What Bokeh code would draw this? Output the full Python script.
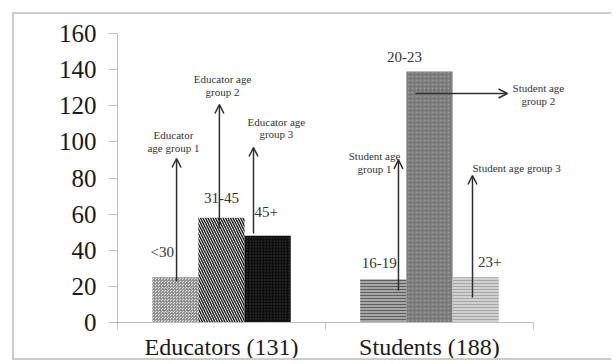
from bokeh.plotting import figure
from bokeh.models import (ColumnDataSource, Range1d, LinearAxis, FixedTicker, Arrow, OpenHead,
                          Label)
from bokeh.embed import file_html
from bokeh.resources import INLINE
from bokeh.core.properties import value

# ---------------- data ----------------
categories = ["Educators (131)", "Students (188)"]
educator_groups = ["<30", "31-45", "45+"]
educator_counts = [25, 58, 48]
student_groups = ["16-19", "20-23", "23+"]
student_counts = [24, 139, 25]
y_ticks = [0, 20, 40, 60, 80, 100, 120, 140, 160]
educator_notes = ["Educator\nage group 1", "Educator age\ngroup 2", "Educator age\ngroup 3"]
student_notes = ["Student age\ngroup 1", "Student age\ngroup 2", "Student age group 3"]

# ---------------- styles ----------------
SERIF = "Liberation Serif"
slot_offsets = [-0.222, 0.0, 0.222]
bar_width = 0.222
# (educator style, student style) per slot
fills = [("#d9d9d9", "#a6a6a6"), ("#ffffff", "#7a7a7a"), ("#0d0d0d", "#d0d0d0")]
hatches = [("criss_cross", "horizontal_line"), ("left_diagonal_line", "dot"), ("dot", "horizontal_line")]
hatch_colors = [("#8c8c8c", "#5e5e5e"), ("#262626", "#9c9c9c"), ("#3a3a3a", "#a8a8a8")]
hatch_scales = [(3, 3), (5, 4), (3, 3)]
hatch_weights = [(0.8, 1.0), (1.5, 1.0), (1.0, 1.0)]
label_dx = [(-13, -4), (0, -25), (-1.5, 14)]
label_dy = [(-25, -16), (-20, -14), (-24, -15)]

n_cat = len(categories)
p = figure(width=599, height=348, x_range=Range1d(0, 2.385), y_range=Range1d(0, 160),
           output_backend="svg", toolbar_location=None, x_axis_location=None,
           min_border_left=103, min_border_right=0, min_border_top=19, min_border_bottom=40)
p.styles = {"margin-left": "12px", "margin-top": "12px",
            "border-left": "2px solid #cccccc", "border-top": "2px solid #cccccc",
            "border-bottom": "2px solid #cccccc"}
p.outline_line_color = None
p.xgrid.visible = False
p.ygrid.visible = False
p.background_fill_color = "white"
p.border_fill_color = "white"

# y axis
ya = p.yaxis[0]
ya.ticker = FixedTicker(ticks=y_ticks)
ya.axis_line_color = "#bfbfbf"
ya.major_tick_line_color = "#bfbfbf"
ya.major_tick_in = 0
ya.major_tick_out = 9
ya.minor_tick_line_color = None
ya.major_label_text_font = SERIF
ya.major_label_text_font_size = "25px"
ya.major_label_text_color = "#1a1a1a"
ya.major_label_standoff = 12

# category axis: labels at category centres, small ticks at category boundaries
centers = [i + 0.5 for i in range(n_cat)]
cat_axis = LinearAxis(ticker=FixedTicker(ticks=centers, minor_ticks=list(range(n_cat + 1))),
                      major_label_overrides={c: name for c, name in zip(centers, categories)},
                      bounds=(0, n_cat),
                      axis_line_color="#bfbfbf", major_tick_line_color=None,
                      minor_tick_line_color="#bfbfbf", minor_tick_in=0, minor_tick_out=7,
                      major_label_text_font=SERIF, major_label_text_font_size="24px",
                      major_label_text_color="#1a1a1a", major_label_standoff=4)
p.add_layout(cat_axis, "below")

# bars
for j in range(3):
    src = ColumnDataSource(dict(
        x=[c + slot_offsets[j] for c in centers],
        count=[educator_counts[j], student_counts[j]],
        label=[educator_groups[j], student_groups[j]],
        fill=list(fills[j]),
        hatch=list(hatches[j]),
        hcolor=list(hatch_colors[j]),
        hscale=list(hatch_scales[j]),
        hweight=list(hatch_weights[j]),
        dx=list(label_dx[j]),
        dy=list(label_dy[j]),
    ))
    p.vbar(x="x", top="count", width=bar_width, bottom=0, source=src,
           fill_color="fill", line_color=None, hatch_pattern="hatch", hatch_color="hcolor",
           hatch_scale="hscale", hatch_weight="hweight")
    p.text(x="x", y="count", text="label", x_offset="dx", y_offset="dy", source=src,
           text_align="center", text_baseline="middle", text_font=value(SERIF),
           text_font_size="15px", text_color="#333333")

# arrows (x: category i spans [i, i+1])
arrow_color = "#2e2e2e"
arrows = [
    (0.284, 22.7, 0.284, 90.8),
    (0.490, 52.0, 0.490, 120.7),
    (0.654, 49.3, 0.654, 96.9),
    (1.351, 17.7, 1.351, 90.0),
    (1.433, 126.8, 1.875, 126.8),
    (1.707, 13.8, 1.707, 81.4),
]
for xs, ys, xe, ye in arrows:
    p.add_layout(Arrow(x_start=xs, y_start=ys, x_end=xe, y_end=ye,
                       line_color=arrow_color, line_width=1.5,
                       end=OpenHead(size=9, line_color=arrow_color, line_width=1.5)))

note_pos = [
    (0.269, 100.2, "center"),
    (0.505, 131.2, "center"),
    (0.764, 107.7, "center"),
    (1.236, 88.6, "center"),
    (2.024, 126.2, "center"),
    (1.707, 85.8, "left"),
]
for txt, (nx, ny, al) in zip(educator_notes + student_notes, note_pos):
    p.add_layout(Label(x=nx, y=ny, text=txt, text_align=al,
                       text_baseline="middle", text_font=SERIF, text_font_size="11px",
                       text_color="#333333", text_line_height=1.05))

open("out.html", "w").write(file_html(p, INLINE))
